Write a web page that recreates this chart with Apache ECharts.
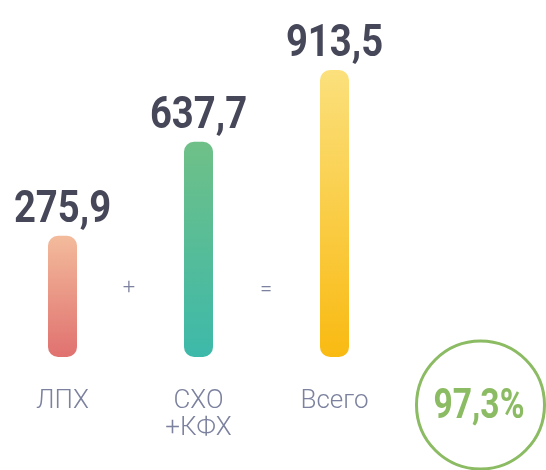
<!DOCTYPE html>
<html>
<head>
<meta charset="utf-8">
<script src="https://cdn.jsdelivr.net/npm/echarts@6/dist/echarts.min.js"></script>
<style>
html,body{margin:0;padding:0;background:#fff;}
#chart{width:546px;height:470px;}
</style>
</head>
<body>
<div id="chart"></div>
<script>
// Data
var categories = ['ЛПХ', 'СХО\n+КФХ', 'Всего'];
var values = [275.9, 637.7, 913.5];
var operators = ['+', '='];
var shareText = '97,3%';

// Styles
var gradients = [
  ['#f3bb9c', '#e0716f'],
  ['#6fc087', '#3db9aa'],
  ['#fbe07c', '#f9ba12']
];
var numFont = "Roboto, 'Liberation Sans', sans-serif";
var catFont = "Roboto, 'Liberation Sans', sans-serif";
var Y_MIN = -190, Y_MAX = 1000;

var chart = echarts.init(document.getElementById('chart'), null, {renderer: 'canvas'});

function fmt(v) { return String(v).replace('.', ','); }

chart.setOption({
  animation: false,
  grid: {left: 62.5, width: 272, top: 47.6, bottom: 113},
  xAxis: {
    type: 'category',
    data: categories,
    boundaryGap: false,
    axisLine: {show: false},
    axisTick: {show: false},
    splitLine: {show: false},
    axisLabel: {
      margin: 31,
      color: '#7b819e',
      fontSize: 26,
      fontWeight: 300,
      lineHeight: 27,
      fontFamily: catFont,
      align: 'center'
    }
  },
  yAxis: {type: 'value', min: Y_MIN, max: Y_MAX, show: false},
  series: [{
    type: 'custom',
    data: values.map(function (v, i) { return [i, v]; }),
    renderItem: function (params, api) {
      var i = api.value(0), v = api.value(1);
      var top = api.coord([i, v]);
      var base = api.coord([i, Y_MIN]);
      var w = 29;
      var g = gradients[params.dataIndex];
      return {
        type: 'group',
        children: [
          {
            type: 'rect',
            shape: {x: top[0] - w / 2, y: top[1], width: w, height: base[1] - top[1], r: 10},
            style: {
              fill: new echarts.graphic.LinearGradient(0, 0, 0, 1, [
                {offset: 0, color: g[0]}, {offset: 1, color: g[1]}
              ])
            }
          },
          {
            type: 'text',
            x: top[0], y: top[1] - 3,
            scaleX: 0.85,
            style: {
              text: fmt(v),
              fill: '#464759',
              font: 'bold 45px ' + numFont,
              align: 'center',
              verticalAlign: 'bottom'
            }
          }
        ]
      };
    }
  }],
  graphic: [
    {type: 'text', x: 129, y: 288, style: {text: operators[0], fontSize: 22, fontWeight: 300, fontFamily: catFont, fill: '#7b819e', align: 'center', verticalAlign: 'middle'}},
    {type: 'text', x: 266, y: 290, style: {text: operators[1], fontSize: 22, fontWeight: 300, fontFamily: catFont, fill: '#7b819e', align: 'center', verticalAlign: 'middle'}},
    {type: 'circle', shape: {cx: 480.5, cy: 405, r: 64}, style: {fill: 'none', stroke: '#8bbb62', lineWidth: 3}},
    {type: 'text', x: 479, y: 407, scaleX: 0.8, style: {text: shareText, font: 'bold 42px ' + numFont, fill: '#8bbb62', align: 'center', verticalAlign: 'middle'}}
  ]
});
</script>
</body>
</html>
